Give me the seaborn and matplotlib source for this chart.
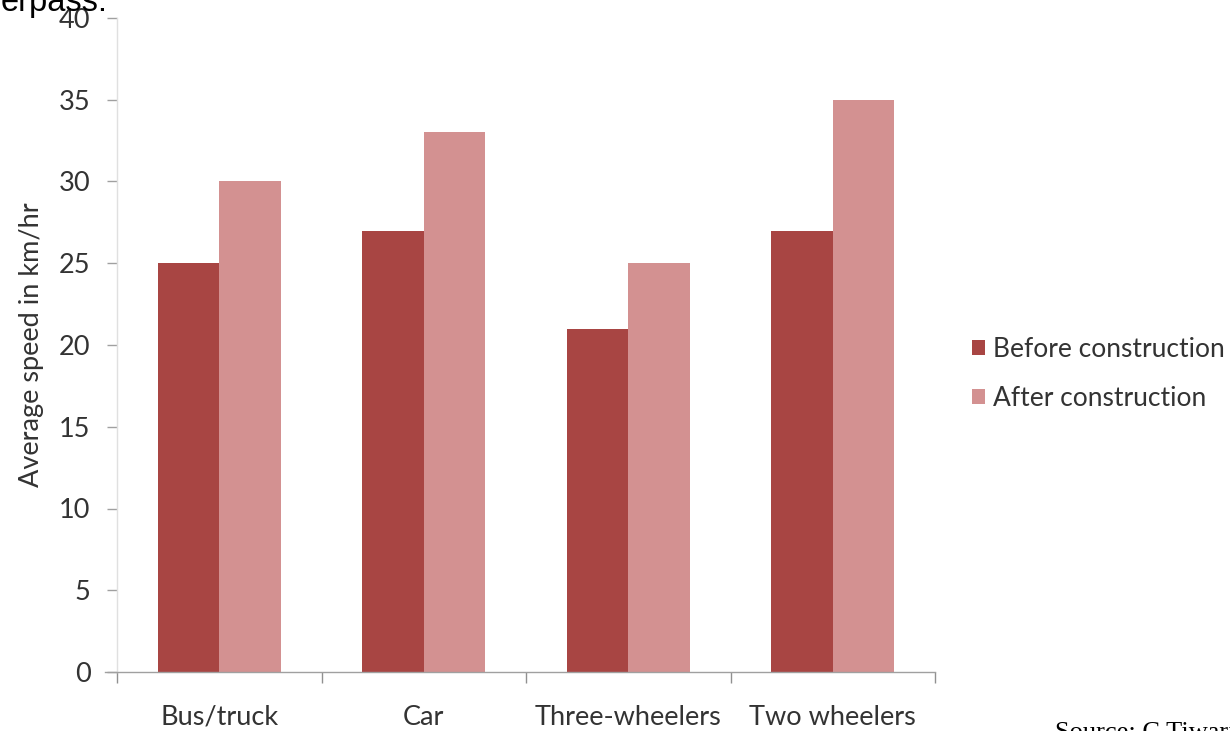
import matplotlib
matplotlib.use("Agg")
import matplotlib.pyplot as plt
import seaborn as sns
import pandas as pd
from matplotlib.patches import Patch

# Average vehicle speeds before and after construction
categories = ["Bus/truck", "Car", "Three-wheelers", "Two wheelers"]
before = [25, 27, 21, 27]
after = [30, 33, 25, 35]
series_names = ["Before construction", "After construction"]
y_ticks = [0, 5, 10, 15, 20, 25, 30, 35, 40]

df = pd.DataFrame({
    "category": categories * 2,
    "speed": before + after,
    "period": [series_names[0]] * len(categories) + [series_names[1]] * len(categories),
})

sns.set_theme(style="white")
plt.rcParams["font.family"] = ["Lato", "DejaVu Sans"]

colors = ["#A84543", "#D39191"]
label_color = "#333333"
fs = 19.5

fig = plt.figure(figsize=(12.3, 7.31), dpi=100)
ax = fig.add_axes([117 / 1230, 1 - 672 / 731, (935 - 117) / 1230, (672 - 18) / 731])

sns.barplot(data=df, x="category", y="speed", hue="period", palette=colors,
            width=0.6, gap=0, saturation=1, ax=ax, legend=False, errorbar=None,
            linewidth=0)

ax.set_ylim(0, 40)
ax.set_xlim(-0.5, len(categories) - 0.5)
ax.set_yticks(y_ticks)
ax.set_xlabel("")
ax.set_ylabel("Average speed in km/hr", fontsize=fs, color=label_color, labelpad=11)

ax.tick_params(axis="y", which="major", direction="out", length=7, width=1,
               color="#A0A0A0", labelsize=fs, labelcolor=label_color, pad=12, left=True)
ax.tick_params(axis="x", which="major", length=0, labelsize=fs,
               labelcolor=label_color, pad=23.5)
ax.set_xticks([i - 0.5 for i in range(len(categories) + 1)], minor=True)
ax.tick_params(axis="x", which="minor", direction="out", length=8, width=1,
               color="#909090", bottom=True)

for side in ["top", "right"]:
    ax.spines[side].set_visible(False)
ax.spines["left"].set_color("#E0E0E0")
ax.spines["left"].set_linewidth(1)
ax.spines["bottom"].set_color("#A0A0A0")
ax.spines["bottom"].set_linewidth(1)
ax.spines["bottom"].set_bounds(-0.56, len(categories) - 0.5)
ax.spines["bottom"].set_clip_on(False)

handles = [Patch(facecolor=c, edgecolor="none") for c in colors]
fig.legend(handles, series_names, loc="center left",
           bbox_to_anchor=(972 / 1230, 1 - 374 / 731), frameon=False,
           fontsize=19, handlelength=0.5, handleheight=0.5,
           handletextpad=0.3, labelspacing=0.9, labelcolor=label_color,
           borderpad=0, borderaxespad=0)

fig.text(108 / 1230, 1 - 10.5 / 731, "erpass:", ha="right", va="baseline",
         fontsize=23.5, family=["Liberation Sans", "DejaVu Sans"], color="black")
fig.text(1055 / 1230, 1 - 739 / 731, "Source: C Tiwari", ha="left", va="baseline",
         fontsize=19, family=["Liberation Serif", "DejaVu Serif"], color="black")

fig.savefig("out.png", dpi=100)
